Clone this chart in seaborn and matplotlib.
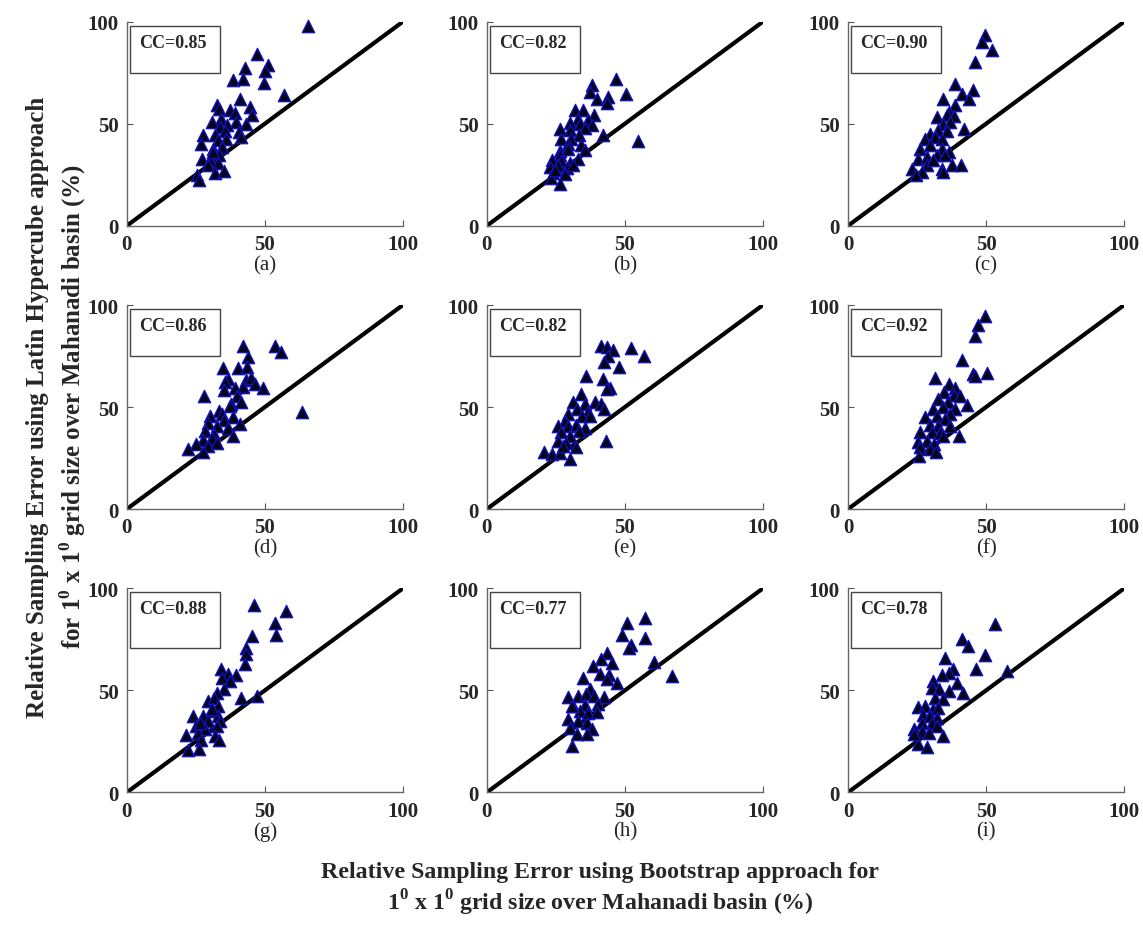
import numpy as np
import pandas as pd
import matplotlib
matplotlib.use("Agg")
import matplotlib.pyplot as plt
import seaborn as sns
from matplotlib.patches import Rectangle

# Relative sampling error (%) – Bootstrap (x) vs Latin Hypercube (y), one pair per panel
bs_a = [65.7, 47.0, 51.0, 42.9, 50.0, 38.3, 42.1, 49.6, 56.9, 40.9, 32.8, 44.6, 37.3, 39.1,
        33.3, 45.2, 34.1, 30.7, 39.7, 43.1, 36.1, 33.7, 27.7, 31.9, 35.5, 40.7, 26.7, 33.1,
        35.9, 41.2, 31.3, 34.3, 27.1, 30.1, 33.3, 33.1, 29.5, 32.1, 35.2, 25.5, 26.0, 31.3]
lh_a = [98.0, 84.3, 78.6, 77.3, 75.7, 71.6, 72.0, 70.1, 63.9, 62.0, 59.0, 58.2, 56.5, 55.4,
        57.4, 54.4, 52.5, 50.8, 50.8, 50.0, 49.2, 48.4, 44.3, 44.3, 46.2, 45.9, 40.2, 41.8,
        42.3, 43.5, 37.7, 38.6, 32.5, 32.0, 34.5, 30.9, 29.9, 26.0, 26.6, 24.7, 22.5, 36.1]

bs_b = [46.6, 37.9, 37.5, 50.4, 39.8, 43.7, 43.4, 31.9, 34.9, 38.9, 33.1, 36.5, 30.1, 33.7,
        38.2, 35.5, 26.4, 30.1, 41.9, 33.5, 27.0, 30.4, 29.5, 34.1, 54.6, 26.4, 29.5, 35.5,
        26.4, 33.1, 23.4, 27.0, 30.1, 22.8, 25.8, 28.9, 24.0, 28.3, 23.2, 26.4, 24.6, 31.3]
lh_b = [72.0, 68.8, 65.5, 64.7, 62.3, 63.0, 60.1, 56.5, 56.5, 54.1, 52.5, 51.6, 50.5, 50.0,
        49.2, 47.9, 47.5, 46.7, 44.6, 44.3, 42.3, 42.3, 40.2, 39.4, 41.5, 36.4, 37.7, 36.9,
        34.5, 32.8, 32.0, 31.5, 30.9, 28.8, 29.6, 28.3, 25.8, 25.5, 23.4, 20.6, 27.1, 29.6]

bs_c = [49.6, 48.4, 52.1, 46.0, 38.8, 45.2, 41.2, 43.9, 34.5, 38.8, 36.4, 32.1, 35.7, 38.2,
        34.3, 36.9, 42.1, 29.7, 32.7, 35.7, 27.9, 31.6, 33.9, 26.1, 29.7, 33.9, 36.7, 25.5,
        28.5, 32.1, 35.1, 28.5, 33.9, 37.6, 40.8, 23.3, 26.7, 24.6, 34.5, 30.9]
lh_c = [93.3, 90.0, 85.9, 80.2, 69.6, 66.3, 64.7, 61.9, 62.3, 59.0, 55.7, 53.3, 54.1, 53.8,
        50.0, 50.8, 47.5, 45.1, 46.7, 46.2, 42.6, 43.5, 42.6, 37.7, 39.4, 37.7, 36.1, 32.8,
        33.7, 34.5, 34.8, 29.6, 27.9, 29.6, 29.9, 27.9, 26.3, 24.7, 26.3, 32.0]

bs_d = [42.1, 53.6, 56.0, 44.0, 34.9, 40.3, 43.6, 36.7, 35.5, 43.1, 44.8, 46.4, 42.1, 39.1,
        49.4, 35.1, 28.0, 39.9, 41.5, 37.9, 37.3, 33.5, 63.6, 34.3, 30.1, 38.3, 35.1, 40.9,
        29.5, 32.5, 36.7, 28.3, 31.5, 38.5, 27.4, 30.7, 25.2, 22.2, 29.5, 27.7, 32.5]
lh_d = [80.0, 80.0, 77.1, 74.3, 69.0, 69.0, 69.4, 63.7, 62.1, 63.4, 64.1, 61.3, 60.0, 59.2,
        59.2, 58.5, 55.2, 55.6, 52.6, 51.5, 50.3, 48.2, 47.7, 46.6, 45.4, 44.9, 43.8, 41.7,
        42.2, 40.5, 39.5, 38.4, 36.8, 35.9, 34.0, 34.6, 31.9, 29.4, 31.0, 27.8, 32.4]

bs_e = [41.5, 43.4, 45.8, 52.2, 57.0, 44.0, 42.5, 47.8, 35.9, 42.1, 44.6, 43.4, 34.1, 31.3,
        35.5, 39.1, 41.5, 42.5, 32.5, 36.5, 29.5, 34.3, 37.3, 28.3, 25.8, 29.5, 32.1, 35.5,
        33.3, 27.0, 30.1, 43.0, 25.8, 28.7, 32.1, 20.8, 23.7, 26.4, 30.1, 27.7]
lh_e = [80.0, 79.2, 78.1, 78.8, 75.2, 75.2, 71.9, 69.4, 65.4, 63.7, 59.2, 58.8, 56.4, 52.3,
        51.5, 52.3, 51.5, 49.0, 49.0, 47.4, 46.6, 45.4, 45.8, 43.3, 40.8, 40.8, 41.2, 39.5,
        38.4, 37.9, 35.9, 33.5, 33.5, 32.4, 30.2, 28.1, 27.0, 27.5, 24.5, 31.0]

bs_f = [49.6, 47.2, 46.0, 41.4, 45.4, 50.2, 46.0, 31.5, 36.7, 38.8, 34.8, 38.2, 32.7, 40.6,
        36.3, 43.0, 34.5, 30.7, 38.8, 37.0, 32.1, 27.9, 35.1, 29.5, 32.7, 37.0, 26.1, 30.3,
        33.3, 40.0, 25.5, 28.5, 31.2, 26.1, 29.7, 31.8, 25.8, 34.5]
lh_f = [94.4, 90.2, 85.0, 73.2, 66.2, 66.7, 65.4, 64.1, 61.3, 59.2, 57.2, 55.9, 53.9, 55.6,
        52.3, 51.0, 49.8, 49.0, 49.0, 46.6, 45.8, 44.9, 44.1, 41.2, 40.8, 40.8, 37.6, 37.9,
        37.3, 35.9, 32.7, 33.5, 31.9, 30.2, 29.4, 27.8, 25.8, 35.9]

bs_g = [46.1, 57.5, 53.6, 54.2, 45.4, 43.1, 43.1, 42.8, 34.1, 39.7, 36.7, 34.3, 37.3, 35.1,
        32.5, 41.5, 47.2, 29.5, 31.5, 32.9, 30.3, 24.0, 27.7, 33.1, 29.5, 33.7, 25.2, 28.3,
        32.7, 21.6, 25.8, 31.9, 33.5, 27.0, 22.2, 26.2, 30.7, 26.4]
lh_g = [91.7, 88.9, 83.2, 77.0, 76.6, 70.9, 67.6, 62.7, 60.6, 57.4, 57.8, 56.2, 54.6, 50.8,
        48.5, 46.4, 47.2, 44.8, 46.4, 42.3, 39.9, 37.4, 37.4, 37.4, 35.0, 35.0, 32.5, 31.2,
        32.5, 27.9, 29.2, 27.6, 25.7, 25.7, 20.8, 21.1, 40.7, 33.8]

bs_h = [57.2, 50.6, 57.2, 48.8, 52.2, 51.4, 43.4, 60.6, 41.5, 45.4, 38.5, 67.1, 40.9, 44.2,
        34.9, 43.4, 47.3, 37.3, 29.5, 32.9, 35.9, 38.9, 42.5, 31.3, 35.5, 40.3, 33.7, 36.7,
        39.7, 29.2, 33.1, 36.1, 30.1, 37.9, 32.5, 36.1, 30.9, 30.7]
lh_h = [85.6, 82.8, 75.5, 77.1, 72.1, 70.9, 68.5, 63.9, 65.2, 63.2, 61.9, 57.0, 57.8, 57.4,
        56.2, 55.4, 53.4, 50.5, 46.9, 47.2, 48.0, 47.2, 46.9, 42.3, 42.6, 43.1, 39.9, 39.1,
        39.4, 36.1, 35.0, 33.8, 31.7, 31.2, 28.4, 28.4, 22.7, 42.3]

bs_i = [53.3, 41.2, 43.6, 49.6, 35.1, 46.4, 57.7, 37.9, 36.7, 33.9, 30.9, 39.4, 30.3, 33.1,
        36.7, 41.8, 31.5, 34.5, 25.5, 27.9, 30.9, 32.7, 27.3, 29.7, 32.1, 26.7, 30.3, 32.1,
        23.7, 26.7, 29.2, 34.5, 25.5, 28.5, 23.7]
lh_i = [82.4, 75.0, 71.7, 67.2, 66.0, 60.6, 59.5, 60.3, 58.3, 57.4, 54.6, 53.8, 51.3, 50.5,
        49.7, 48.5, 46.4, 45.6, 42.0, 42.3, 40.7, 41.5, 37.7, 37.4, 36.6, 34.2, 33.8, 32.5,
        30.9, 30.1, 29.2, 27.6, 23.5, 22.2, 28.4]

panel_x = [bs_a, bs_b, bs_c, bs_d, bs_e, bs_f, bs_g, bs_h, bs_i]
panel_y = [lh_a, lh_b, lh_c, lh_d, lh_e, lh_f, lh_g, lh_h, lh_i]
cc_values = [0.85, 0.82, 0.90, 0.86, 0.82, 0.92, 0.88, 0.77, 0.78]
panel_tags = ["(a)", "(b)", "(c)", "(d)", "(e)", "(f)", "(g)", "(h)", "(i)"]
ticks = [0, 50, 100]

sns.set_style("ticks")
plt.rcParams["font.family"] = ["Liberation Serif", "DejaVu Serif"]
plt.rcParams["mathtext.fontset"] = "custom"
plt.rcParams["mathtext.rm"] = "Liberation Serif:bold"
plt.rcParams["mathtext.bf"] = "Liberation Serif:bold"

fig = plt.figure(figsize=(11.43, 9.29), dpi=100)

col_left = [0.111, 0.426, 0.742]
row_bottom = [0.756, 0.451, 0.146]
ax_w, ax_h = 0.2415, 0.2196
box_h = [23, 23, 27]  # CC box height per row, in data units

for i in range(9):
    r, c = divmod(i, 3)
    ax = fig.add_axes([col_left[c], row_bottom[r], ax_w, ax_h])
    df = pd.DataFrame({"bootstrap": panel_x[i], "lhs": panel_y[i]})

    ax.plot([0, 100], [0, 100], color="black", lw=3, zorder=2, solid_capstyle="butt")
    sns.scatterplot(data=df, x="bootstrap", y="lhs", ax=ax, marker="^", s=80,
                    color="#05051a", edgecolor="#1010c8", linewidth=0.9, zorder=3,
                    legend=False, clip_on=False)

    ax.set_xlim(0, 100)
    ax.set_ylim(0, 100)
    ax.set_xticks(ticks)
    ax.set_yticks(ticks)
    ax.set_xlabel("")
    ax.set_ylabel("")
    ax.tick_params(direction="in", length=4, width=0.8, color="#555555",
                   labelsize=15, pad=6)
    for lab in ax.get_xticklabels() + ax.get_yticklabels():
        lab.set_fontweight("bold")
    sns.despine(ax=ax)
    for side in ("left", "bottom"):
        ax.spines[side].set_color("#666666")
        ax.spines[side].set_linewidth(1.0)

    top = 98
    ax.add_patch(Rectangle((1.2, top - box_h[r]), 32.5, box_h[r], fill=False,
                           edgecolor="#444444", lw=1.0, clip_on=False, zorder=4))
    ax.text(4.5, top - 8, f"CC={cc_values[i]:.2f}", fontsize=13, fontweight="bold",
            ha="left", va="center", zorder=5)
    ax.text(0.5, -0.19, panel_tags[i], transform=ax.transAxes, fontsize=15,
            ha="center", va="center")

fig.text(0.05, 0.562,
         "Relative Sampling Error using Latin Hypercube approach\n"
         r"for 1$^{\mathbf{0}}$ x 1$^{\mathbf{0}}$ grid size over Mahanadi basin (%)",
         rotation=90, ha="center", va="center", fontsize=18, fontweight="bold",
         multialignment="center", linespacing=1.35)
fig.text(0.525, 0.042,
         "Relative Sampling Error using Bootstrap approach for\n"
         r"1$^{\mathbf{0}}$ x 1$^{\mathbf{0}}$ grid size over Mahanadi basin (%)",
         ha="center", va="center", fontsize=17.2, fontweight="bold",
         multialignment="center")

fig.savefig("out.png", dpi=100)
plt.close(fig)
